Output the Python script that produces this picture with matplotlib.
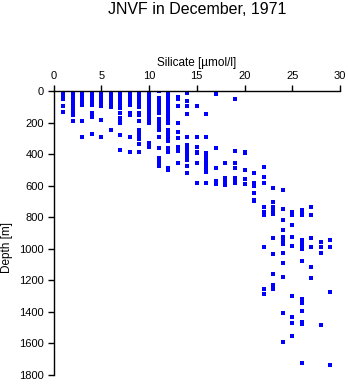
import numpy as np
import matplotlib
matplotlib.use("Agg")
import matplotlib.pyplot as plt

plt.rcParams['font.family'] = ['Liberation Sans', 'DejaVu Sans']

# depth [m] samples for each silicate value [umol/l]
si_1 = [5, 10, 15, 20, 30, 50, 95, 135]
si_2 = [5, 10, 15, 20, 25, 30, 40, 50, 60, 75, 90, 100, 125, 150, 190]
si_3 = [5, 10, 20, 30, 40, 50, 60, 75, 90, 190, 290]
si_4 = [5, 10, 20, 30, 40, 50, 60, 75, 90, 140, 165, 270]
si_5 = [5, 10, 15, 20, 30, 45, 60, 75, 95, 185, 290]
si_6 = [5, 10, 20, 30, 40, 50, 60, 75, 100, 250]
si_7 = [5, 10, 20, 30, 40, 50, 60, 70, 80, 90, 105, 140, 170, 190, 200, 280, 375]
si_8 = [5, 10, 20, 30, 50, 60, 75, 90, 140, 150, 290, 385]
si_9 = [5, 10, 20, 30, 40, 50, 60, 70, 80, 100, 140, 150, 190, 250, 265, 280, 305, 335, 385]
si_10 = [15, 25, 35, 45, 55, 65, 75, 90, 100, 115, 125, 140, 150, 160, 175, 190, 200, 330, 355]
si_11 = [0, 45, 55, 65, 75, 85, 100, 115, 125, 140, 180, 190, 205, 225, 250, 290, 360, 425, 440, 455, 475]
si_12 = [5, 15, 25, 40, 60, 75, 90, 110, 125, 140, 155, 170, 190, 200, 250, 265, 280, 300, 315, 360, 375, 385, 490, 500]
si_13 = [38, 50, 95, 200, 258, 296, 353, 374, 380, 456]
si_14 = [15, 65, 95, 148, 290, 342, 360, 375, 390, 405, 420, 435, 475, 518]
si_15 = [95, 293, 355, 385, 395, 458, 585]
si_16 = [148, 290, 390, 420, 437, 450, 465, 480, 490, 515, 580]
si_17 = [21, 361, 486, 570, 591]
si_18 = [458, 550, 565, 580, 595]
si_19 = [50, 380, 458, 488, 550, 565, 585]
si_20 = [385, 390, 500, 560, 590]
si_21 = [522, 585, 600, 645, 690, 700]
si_22 = [484, 547, 585, 737, 765, 775, 787, 990, 1257, 1289]
si_23 = [617, 701, 735, 750, 765, 780, 934, 1035, 1162, 1229, 1257]
si_24 = [627, 750, 817, 881, 925, 940, 955, 970, 1029, 1093, 1177, 1405, 1593]
si_25 = [765, 785, 850, 927, 980, 1297, 1430, 1468, 1551]
si_26 = [755, 770, 785, 945, 960, 975, 1000, 1077, 1316, 1324, 1341, 1396, 1462, 1478, 1726]
si_27 = [737, 786, 934, 987, 1113, 1187]
si_28 = [955, 991, 1025, 1483]
si_29 = [944, 987, 1276, 1738]

columns = [si_1, si_2, si_3, si_4, si_5, si_6, si_7, si_8, si_9, si_10,
           si_11, si_12, si_13, si_14, si_15, si_16, si_17, si_18, si_19, si_20,
           si_21, si_22, si_23, si_24, si_25, si_26, si_27, si_28, si_29]

silicate = []
depth = []
for i, col in enumerate(columns):
    silicate += [i + 1] * len(col)
    depth += col

fig = plt.figure(figsize=(3.48, 3.84), dpi=100)
ax = fig.add_axes([53.5 / 348, 1 - 375 / 384, (340 - 53.5) / 348, (375 - 91) / 384])

ax.plot(silicate, depth, 's', color='#0000ff', markersize=2.4, markeredgewidth=0)

ax.set_xlim(0, 30)
ax.set_ylim(1800, 0)
ax.set_xticks(np.arange(0, 31, 5))
ax.set_yticks(np.arange(0, 1801, 200))

ax.spines['bottom'].set_visible(False)
ax.spines['right'].set_visible(False)
ax.spines['top'].set_linewidth(1.0)
ax.spines['left'].set_linewidth(1.0)
ax.xaxis.tick_top()
ax.xaxis.set_label_position('top')
ax.tick_params(axis='both', direction='out', length=4, width=1.0, labelsize=8, pad=3)

ax.set_xlabel('Silicate [\u00b5mol/l]', fontsize=8.5, labelpad=4)
ax.set_ylabel('Depth [m]', fontsize=8.5, labelpad=4)
ax.yaxis.set_label_coords(-0.14, 0.45)

fig.suptitle('JNVF in December, 1971', x=196.75 / 348, y=1 - 2 / 384, va='top', fontsize=11.5)

fig.savefig('out.png', dpi=100)
